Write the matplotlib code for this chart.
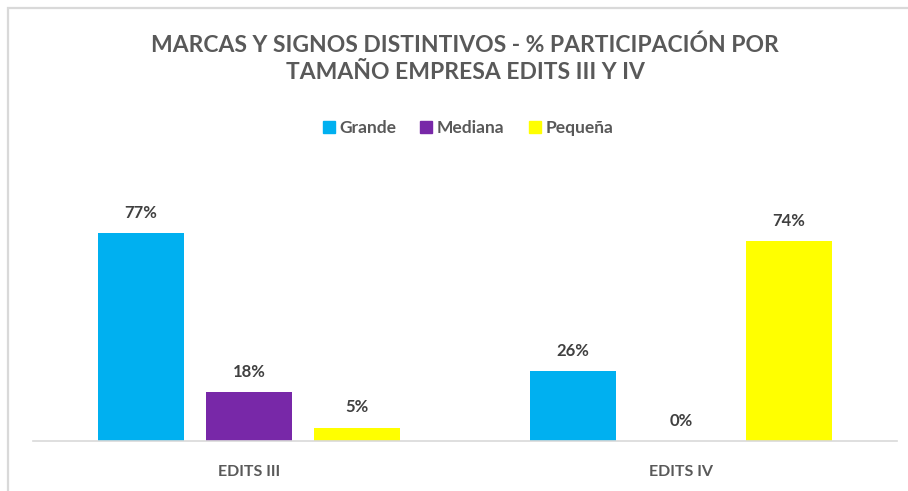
import numpy as np
import matplotlib.pyplot as plt
from matplotlib.patches import Rectangle
from matplotlib.lines import Line2D

# datos
categorias = ["EDITS III", "EDITS IV"]
tamanos = ["Grande", "Mediana", "Pequeña"]
grande = [77, 26]
mediana = [18, 0]
pequena = [5, 74]
colores = ["#00B0F0", "#7828A8", "#FFFF00"]

titulo = "MARCAS Y SIGNOS DISTINTIVOS - % PARTICIPACIÓN POR\nTAMAÑO EMPRESA EDITS III Y IV"

plt.rcParams['font.family'] = ['Lato', 'DejaVu Sans']

fig = plt.figure(figsize=(9.08, 4.91), dpi=100)
fig.patch.set_facecolor("white")

# marco del grafico
fig.patches.append(Rectangle((8 / 908, -0.2), 1.2, (491 - 8) / 491 + 0.2,
                             transform=fig.transFigure, fill=False,
                             edgecolor="#D9D9D9", linewidth=1.6))

ax = fig.add_axes([33 / 908, 50 / 491, 864 / 908, 270 / 491])

x = np.arange(len(categorias))
ancho = 0.199
desp = 0.25
series = [grande, mediana, pequena]
for i, (vals, col) in enumerate(zip(series, colores)):
    pos = x + (i - 1) * desp
    ax.bar(pos, vals, width=ancho, color=col, label=tamanos[i])
    for p, v in zip(pos, vals):
        ax.text(p, v + 4.5, f"{v}%", ha="center", va="bottom",
                fontsize=12, fontweight="bold", color="#404040")

ax.set_xlim(-0.5, 1.5)
ax.set_ylim(0, 100)
ax.set_yticks([])
ax.set_xticks(x)
ax.set_xticklabels(categorias, fontsize=11.5, color="#595959", fontweight="bold")
ax.tick_params(axis="x", length=0, pad=17)
for s in ["top", "right", "left"]:
    ax.spines[s].set_visible(False)
ax.spines["bottom"].set_color("#D9D9D9")
ax.spines["bottom"].set_linewidth(1.2)

fig.text(465 / 908, 1 - 59 / 491, titulo, ha="center", va="center",
         fontsize=16.5, fontweight="bold", color="#595959", linespacing=1.35)

handles = [Line2D([], [], marker="s", linestyle="none", markersize=8,
                  markerfacecolor=c, markeredgecolor=c) for c in colores]
fig.legend(handles, tamanos, loc="center", bbox_to_anchor=(467 / 908, 1 - 128 / 491),
           ncol=3, frameon=False, handletextpad=0.15, columnspacing=1.3,
           handlelength=0.9, prop={"size": 12.5, "weight": "bold"}, labelcolor="#595959")

fig.savefig("out.png", dpi=100)
